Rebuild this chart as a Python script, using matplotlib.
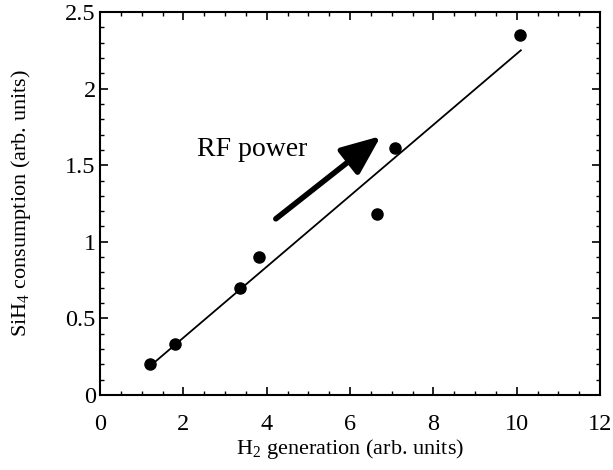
import matplotlib
matplotlib.use("Agg")
import matplotlib.pyplot as plt
from matplotlib.ticker import MultipleLocator

plt.rcParams['font.family'] = ['Liberation Serif', 'DejaVu Serif']
plt.rcParams['mathtext.fontset'] = 'custom'
plt.rcParams['mathtext.rm'] = 'Liberation Serif'
plt.rcParams['mathtext.it'] = 'Liberation Serif:italic'

# data
h2_gen = [1.2, 1.8, 3.37, 3.82, 6.65, 7.07, 10.08]
sih4_cons = [0.2, 0.333, 0.70, 0.90, 1.18, 1.61, 2.35]
fit_x = [1.25, 10.1]
fit_y = [0.2, 2.25]
arrow_start = (4.22, 1.15)
arrow_end = (6.74, 1.69)
x_ticks = [0, 2, 4, 6, 8, 10, 12]
y_ticks = [0, 0.5, 1, 1.5, 2, 2.5]
y_ticklabels = ['0', '0.5', '1', '1.5', '2', '2.5']

fig = plt.figure(figsize=(6.13, 4.70), dpi=100)
ax = fig.add_axes([100/613, 1 - 395/470, 500/613, 383/470])

ax.plot(fit_x, fit_y, color='black', lw=1.3)
ax.plot(h2_gen, sih4_cons, 'o', color='black', markersize=8)

ax.annotate('', xy=arrow_end, xytext=arrow_start,
            arrowprops=dict(arrowstyle='-|>,head_length=1.2,head_width=0.5',
                            lw=4, color='black', mutation_scale=20,
                            shrinkA=0, shrinkB=0))
ax.text(2.33, 1.6, 'RF power', fontsize=20, va='center', ha='left')

ax.set_xlim(0, 12)
ax.set_ylim(0, 2.5)
ax.set_xticks(x_ticks)
ax.set_xticklabels([str(t) for t in x_ticks])
ax.set_yticks(y_ticks)
ax.set_yticklabels(y_ticklabels)
ax.xaxis.set_minor_locator(MultipleLocator(0.5))
ax.yaxis.set_minor_locator(MultipleLocator(0.1))
ax.tick_params(which='both', direction='in', top=True, right=True, labelsize=17.5)
ax.tick_params(which='major', length=6, width=1.2)
ax.tick_params(axis='x', which='major', pad=14)
ax.tick_params(axis='y', which='major', pad=3)
ax.tick_params(which='minor', length=3, width=1.0)
for s in ax.spines.values():
    s.set_linewidth(1.5)

ax.set_xlabel(r'H$_2$ generation (arb. units)', fontsize=16, labelpad=1)
ax.set_ylabel(r'SiH$_4$ consumption (arb. units)', fontsize=16, labelpad=23)

fig.savefig('out.png', dpi=100)
